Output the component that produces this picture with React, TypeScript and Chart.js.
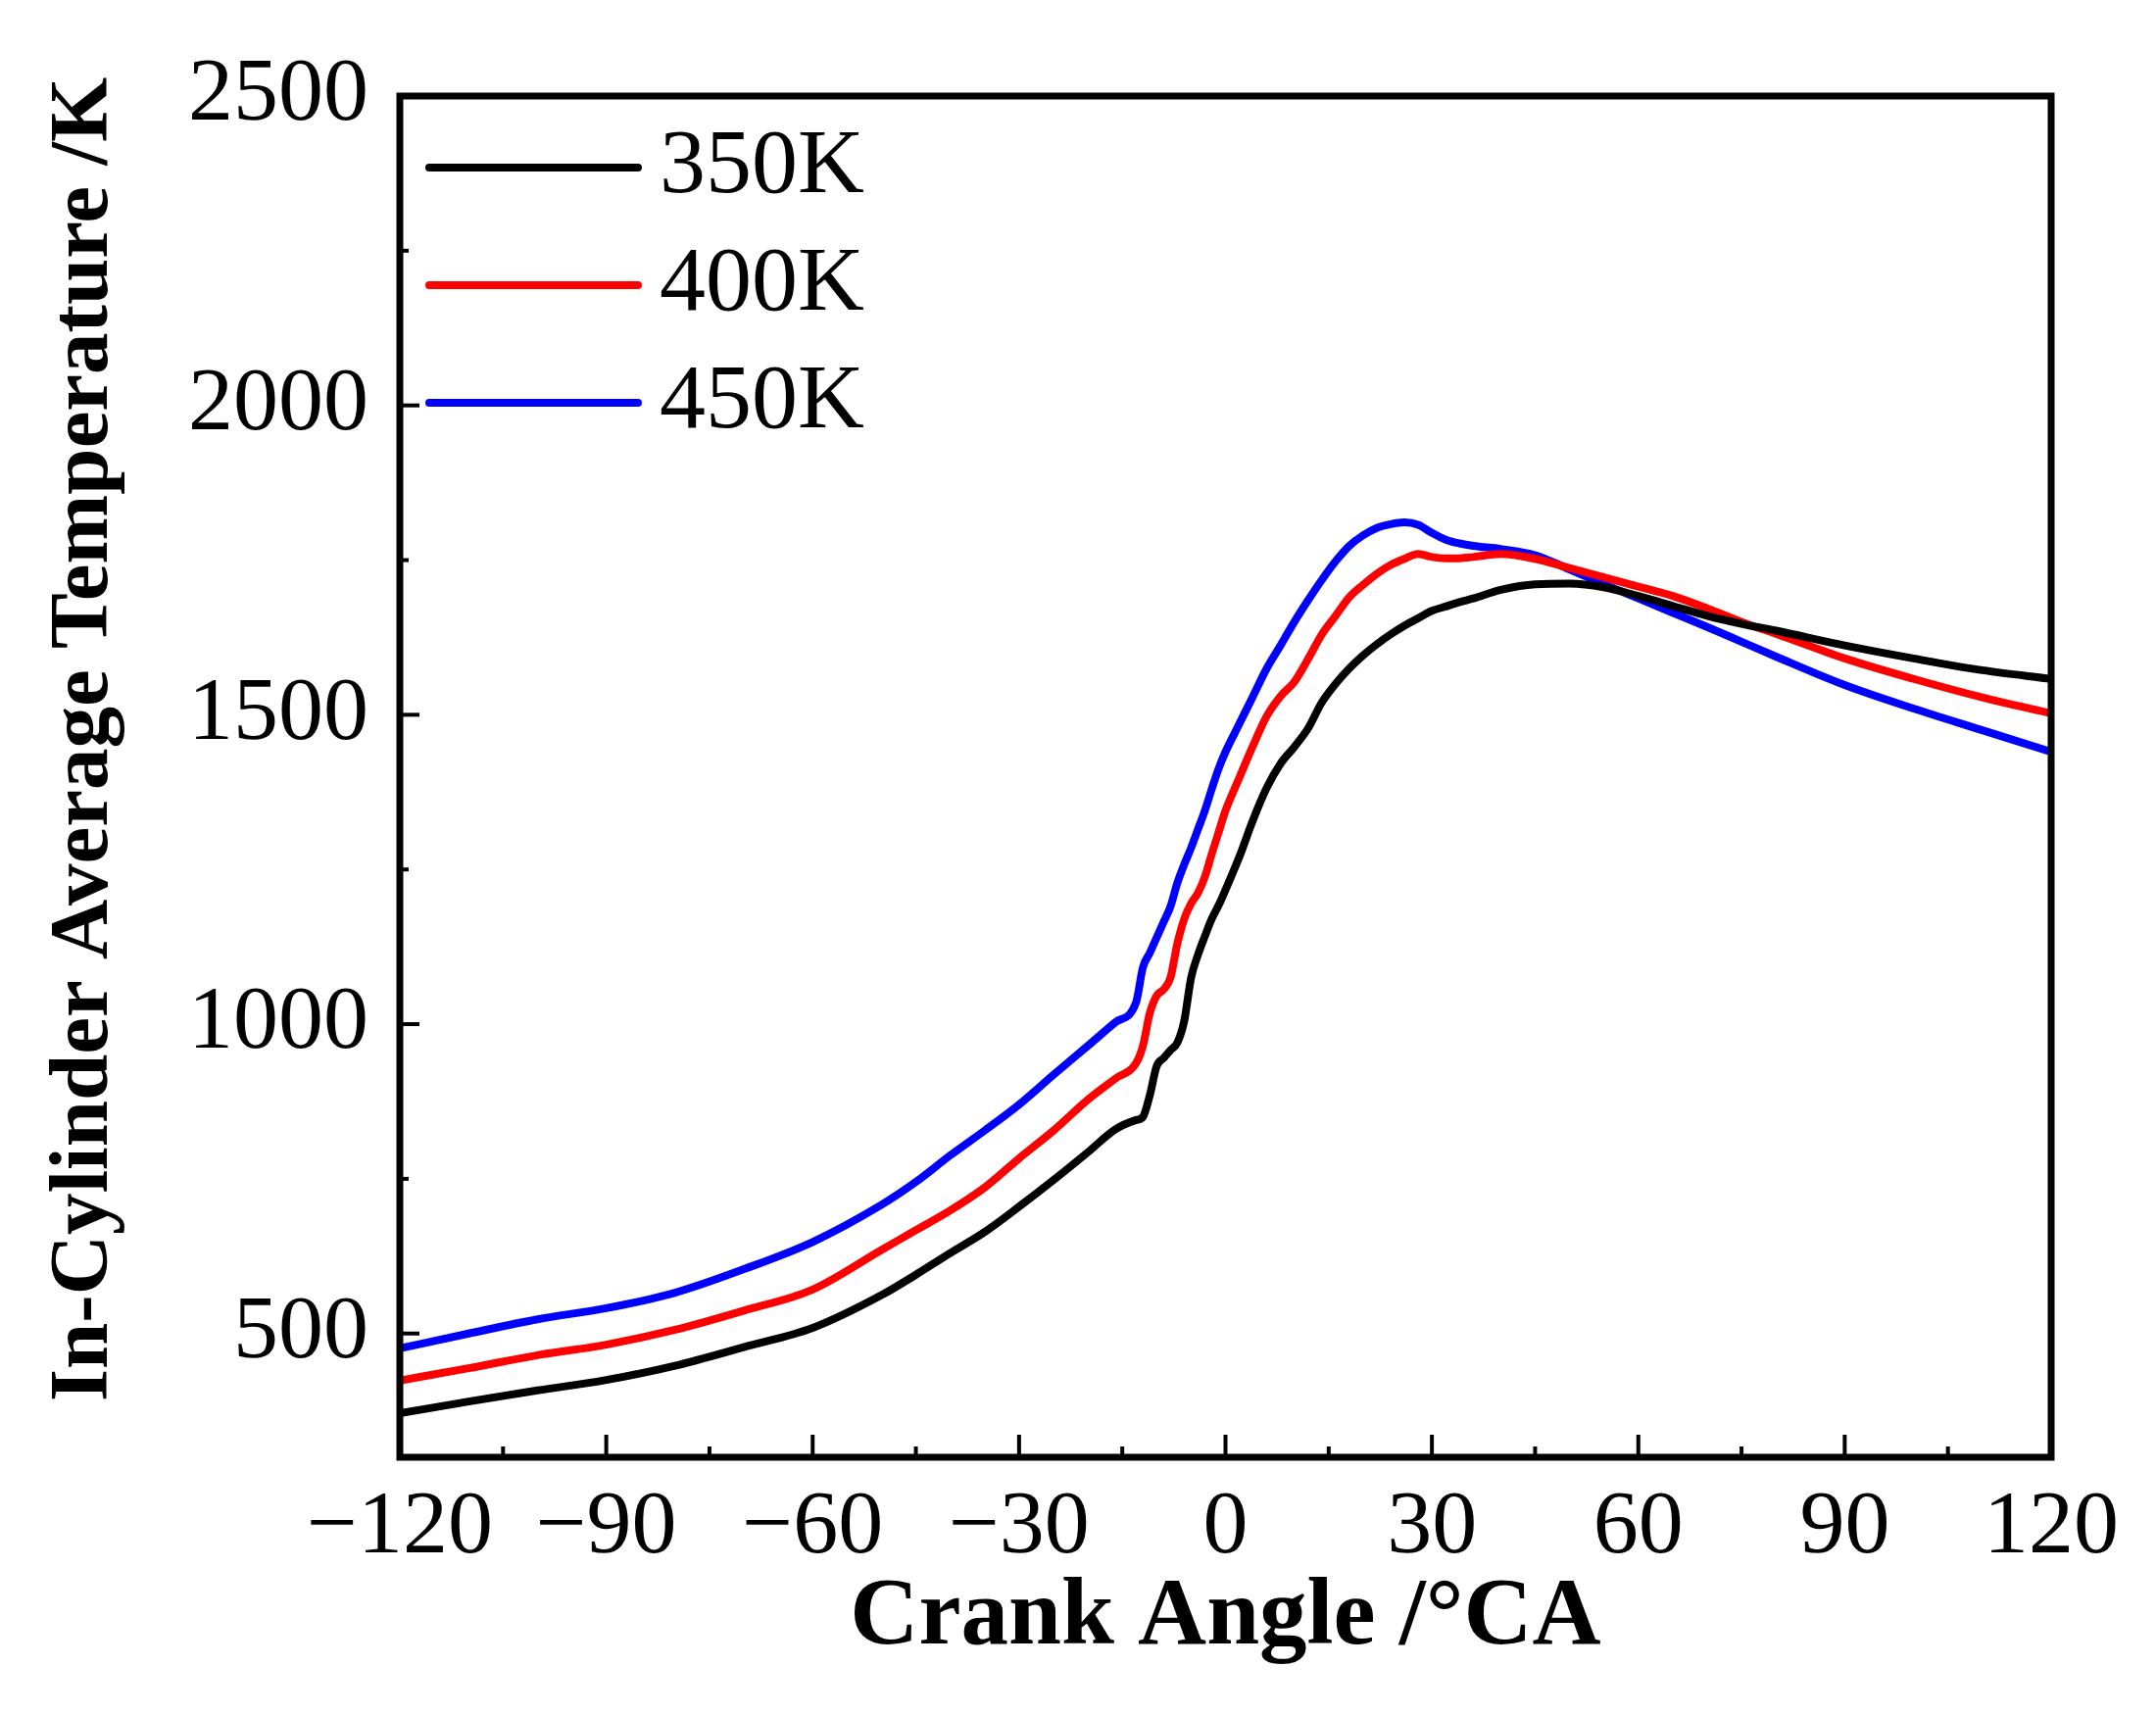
import { useEffect, useRef } from "react";
import { Chart, registerables, type ChartConfiguration, type Plugin } from "chart.js";

Chart.register(...registerables);

// crank angle (°CA) shared by all three curves
const crankAngle = [
  -120, -110, -100, -90, -80, -70, -60, -50, -45, -40, -35, -30, -25, -20, -16, -13, -12, -11, -10,
  -9, -8, -7, -6, -5, -4, -3, -2, -1, 0, 2, 4, 6, 8, 10, 12, 14, 16, 18, 20, 22, 24, 26, 28, 30, 32,
  34, 36, 40, 45, 50, 55, 60, 65, 70, 75, 80, 90, 100, 110, 120,
];

const temp350 = [
  371, 390, 408, 425, 448, 478, 509, 562, 595, 630, 664, 705, 748, 793, 830, 845, 850, 885, 932,
  945, 958, 970, 1005, 1075, 1112, 1142, 1170, 1192, 1217, 1270, 1330, 1382, 1421, 1448, 1478, 1520,
  1550, 1575, 1596, 1614, 1630, 1644, 1656, 1668, 1675, 1682, 1688, 1702, 1711, 1712, 1706, 1692,
  1676, 1660, 1647, 1636, 1612, 1591, 1572, 1558,
];

const temp400 = [
  424, 444, 465, 482, 506, 537, 571, 635, 667, 699, 736, 783, 828, 878, 912, 937, 965, 1018, 1046,
  1056, 1075, 1130, 1170, 1195, 1212, 1238, 1275, 1310, 1345, 1398, 1450, 1498, 1530, 1553, 1590,
  1630, 1660, 1690, 1710, 1728, 1742, 1752, 1760, 1755, 1753, 1753, 1755, 1760, 1752, 1737, 1722,
  1707, 1692, 1672, 1650, 1631, 1591, 1558, 1528, 1502,
];

const temp450 = [
  476, 500, 523, 541, 566, 604, 648, 708, 745, 788, 828, 870, 918, 965, 1003, 1035, 1092, 1115,
  1140, 1165, 1190, 1228, 1258, 1285, 1315, 1345, 1380, 1413, 1440, 1485, 1530, 1575, 1612, 1650,
  1685, 1718, 1748, 1773, 1790, 1802, 1808, 1811, 1807, 1794, 1783, 1777, 1773, 1768, 1758, 1735,
  1711, 1688, 1665, 1642, 1618, 1594, 1548, 1510, 1475, 1440,
];

const seriesLabels = ["350K", "400K", "450K"];
const seriesColors = ["#000000", "#ff0000", "#0000ff"];

const xTicks = [-120, -90, -60, -30, 0, 30, 60, 90, 120];
const yTicks = [500, 1000, 1500, 2000, 2500];

const xTitle = "Crank Angle /°CA";
const yTitle = "In-Cylinder Average Temperature /K";

const SERIF = "'Liberation Serif', 'Times New Roman', serif";

const pairs = (ys: number[]) => crankAngle.map((x, i) => ({ x, y: ys[i] }));

// frame, inward tick marks, y title and the legend inside the plot
const framePlugin: Plugin<"line"> = {
  id: "frameTicksLegend",
  afterDraw(chart) {
    const { ctx, chartArea: a } = chart;
    const xs = chart.scales.x;
    const ys = chart.scales.y;
    ctx.save();
    ctx.strokeStyle = "#000";
    ctx.lineWidth = 4;
    for (let v = xs.min; v <= xs.max; v += 15) {
      const px = xs.getPixelForValue(v);
      const len = v % 30 === 0 ? 23 : 11;
      ctx.beginPath();
      ctx.moveTo(px, a.bottom);
      ctx.lineTo(px, a.bottom - len);
      ctx.stroke();
    }
    for (let v = 500; v <= ys.max; v += 250) {
      const py = ys.getPixelForValue(v);
      const len = v % 500 === 0 ? 20 : 9;
      ctx.beginPath();
      ctx.moveTo(a.left, py);
      ctx.lineTo(a.left + len, py);
      ctx.stroke();
    }
    ctx.lineWidth = 7;
    ctx.strokeRect(a.left, a.top, a.width, a.height);

    // y axis title, a little above the middle as in the original
    ctx.save();
    ctx.translate(87, (a.top + a.bottom) / 2 - 38);
    ctx.rotate(-Math.PI / 2);
    ctx.font = `bold 85px ${SERIF}`;
    ctx.fillStyle = "#000";
    ctx.textAlign = "center";
    ctx.textBaseline = "middle";
    ctx.fillText(yTitle, 0, 0);
    ctx.restore();

    ctx.font = `94px ${SERIF}`;
    ctx.textBaseline = "middle";
    ctx.textAlign = "left";
    chart.data.datasets.forEach((ds, i) => {
      const rowY = a.top + 73 + i * 120;
      ctx.strokeStyle = ds.borderColor as string;
      ctx.lineWidth = 8;
      ctx.lineCap = "round";
      ctx.beginPath();
      ctx.moveTo(a.left + 30, rowY);
      ctx.lineTo(a.left + 243, rowY);
      ctx.stroke();
      ctx.fillStyle = "#000";
      ctx.fillText(ds.label ?? "", a.left + 265, rowY);
    });
    ctx.restore();
  },
};

function TemperatureChart() {
  const canvasRef = useRef<HTMLCanvasElement | null>(null);
  const chartRef = useRef<Chart<"line"> | null>(null);

  useEffect(() => {
    const el = canvasRef.current;
    if (!el) return;

    chartRef.current?.destroy();

    const datasets = [temp350, temp400, temp450].map((ys, i) => ({
      label: seriesLabels[i],
      data: pairs(ys),
      borderColor: seriesColors[i],
      backgroundColor: seriesColors[i],
      borderWidth: 8,
      pointRadius: 0,
      cubicInterpolationMode: "monotone" as const,
      fill: false,
    }));

    const cfg: ChartConfiguration<"line"> = {
      type: "line",
      data: { datasets },
      options: {
        animation: false,
        responsive: false,
        devicePixelRatio: 1,
        layout: { padding: { left: 0, top: 98, right: 107, bottom: 0 } },
        plugins: {
          legend: { display: false },
          tooltip: { enabled: false },
        },
        scales: {
          x: {
            type: "linear",
            min: -120,
            max: 120,
            afterFit: (s) => {
              s.height = 263;
            },
            afterBuildTicks: (s) => {
              s.ticks = xTicks.map((value) => ({ value }));
            },
            grid: { display: false, drawTicks: false, tickLength: 0 },
            border: { display: false },
            ticks: {
              color: "#000",
              padding: 18,
              maxRotation: 0,
              font: { family: SERIF, size: 92 },
              callback: (v) => String(v).replace("-", "\u2212"),
            },
            title: {
              display: true,
              text: xTitle,
              color: "#000",
              font: { family: SERIF, size: 97, weight: "bold" },
              padding: { top: 0, bottom: 40 },
            },
          },
          y: {
            type: "linear",
            min: 300,
            max: 2500,
            afterFit: (s) => {
              s.width = 408;
            },
            afterBuildTicks: (s) => {
              s.ticks = yTicks.map((value) => ({ value }));
            },
            grid: { display: false, drawTicks: false, tickLength: 0 },
            border: { display: false },
            ticks: {
              color: "#000",
              padding: 32,
              font: { family: SERIF, size: 92 },
              callback: (v) => String(v),
            },
          },
        },
      },
      plugins: [framePlugin],
    };

    chartRef.current = new Chart(el, cfg);

    return () => {
      chartRef.current?.destroy();
      chartRef.current = null;
    };
  }, []);

  return <canvas ref={canvasRef} width={2200} height={1750} style={{ width: 2200, height: 1750 }} />;
}

export default function App() {
  return (
    <div style={{ position: "absolute", left: 0, top: 0, width: 2200, height: 1750, background: "#fff" }}>
      <TemperatureChart />
    </div>
  );
}
